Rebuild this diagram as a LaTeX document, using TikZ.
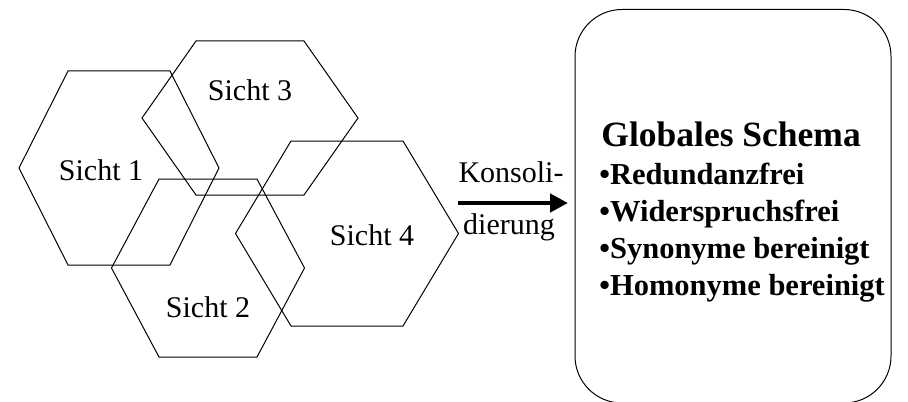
\documentclass[tikz,border=0pt]{standalone}
\usepackage{fontspec}
\setmainfont{Liberation Serif}
\usetikzlibrary{arrows.meta}
\usetikzlibrary{positioning}
\tikzset {
  % outline of one view (hexagon)
  view line/.style = {
    draw = black,
    line width = 0.5pt,
    line join = miter
  },
  % name of a view
  view label/.style = {
    anchor = base,
    inner sep = 0,
    font = \fontsize{15}{18}\selectfont
  },
  % text next to the arrow
  step label/.style = {
    view label
  },
  % consolidation arrow
  consol/.style = {
    draw = black,
    line width = 2.2pt,
    -{Triangle[length=9pt,width=9pt]}
  }
}
\tikzset {
  % global schema box
  schema box/.style = {
    draw = black,
    line width = 0.5pt,
    rounded corners = 23.5pt
  },
  schema title/.style = {
    anchor = base west,
    inner sep = 0,
    font = \fontsize{17.75}{20}\selectfont\bfseries
  },
  schema item/.style = {
    anchor = base west,
    inner sep = 0,
    font = \fontsize{15.25}{18}\selectfont\bfseries
  }
}
% hexagon: centre x, centre y, half width, half top edge, half height
\newcommand{\viewhex}[5]{%
  \draw[view line] (#1-#3,#2) -- (#1-#4,#2-#5) -- (#1+#4,#2-#5)
    -- (#1+#3,#2) -- (#1+#4,#2+#5) -- (#1-#4,#2+#5) -- cycle;}

\begin{document}
\begin{tikzpicture}[x=0.5pt, y=-0.5pt]
    \useasboundingbox (0,0) rectangle (908,401);

    % the four views
    \viewhex{119}{168}{100}{51}{97}
    \viewhex{250}{118}{108}{54}{77}
    \viewhex{208}{268}{96.5}{49}{89}
    \viewhex{347}{233.5}{111.5}{56}{92.5}

    \node[view label] (sicht1) at (101,180) {Sicht 1};
    \node[view label] (sicht3) at (250,100) {Sicht 3};
    \node[view label] (sicht2) at (208,317) {Sicht 2};
    \node[view label] (sicht4) at (372,245) {Sicht 4};

    % consolidation
    \coordinate (from) at (458,203);
    \coordinate (to) at (568,203);
    \draw[consol] (from) -- (to);
    \node[step label] (konsoli) at (511,182) {Konsoli-};
    \node[step label] (dierung) at (509,234) {dierung};

    % global schema
    \draw[schema box] (575,9.5) rectangle (891,403);
    \node[schema title] (global) at (601,146) {Globales Schema};
    \node[schema item] (redund) at (599,184) {•Redundanzfrei};
    \node[schema item] (wider) at (599,221) {•Widerspruchsfrei};
    \node[schema item] (synonym) at (599,258) {•Synonyme bereinigt};
    \node[schema item] (homonym) at (599,295) {•Homonyme bereinigt};
  \end{tikzpicture}
\end{document}
